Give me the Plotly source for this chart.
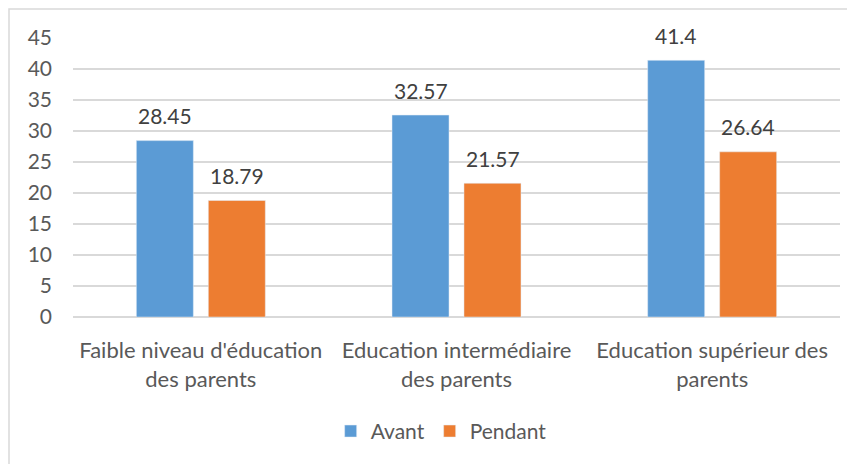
import plotly.graph_objects as go

categories = ["Faible niveau d'éducation<br>des parents",
              "Education intermédiaire<br>des parents",
              "Education supérieur des<br>parents"]
avant = [28.45, 32.57, 41.4]
pendant = [18.79, 21.57, 26.64]
avant_labels = ["28.45", "32.57", "41.4"]
pendant_labels = ["18.79", "21.57", "26.64"]
y_ticks = [0, 5, 10, 15, 20, 25, 30, 35, 40, 45]

FONT = "Lato"
TXT = "#595959"

# page has 8px body margin; figure sized to fit the 855x464 window
W, H = 847, 456
L, R, T, B = 65, 15, 30, 147
PW, PH = W - L - R, H - T - B

fig = go.Figure()
fig.add_trace(go.Bar(x=categories, y=avant, name="Avant", marker_color="#5B9BD5"))
fig.add_trace(go.Bar(x=categories, y=pendant, name="Pendant", marker_color="#ED7D31"))

annotations = []
for cat, v, lab in zip(categories, avant, avant_labels):
    annotations.append(dict(x=cat, y=v, xref="x", yref="y", text=lab, showarrow=False,
                            xshift=-36, yshift=25, yanchor="middle",
                            font=dict(size=21, color="#404040", family=FONT)))
for cat, v, lab in zip(categories, pendant, pendant_labels):
    annotations.append(dict(x=cat, y=v, xref="x", yref="y", text=lab, showarrow=False,
                            xshift=36, yshift=25, yanchor="middle",
                            font=dict(size=21, color="#404040", family=FONT)))

fig.update_layout(
    width=W, height=H,
    margin=dict(l=L, r=R, t=T, b=B),
    paper_bgcolor="white", plot_bgcolor="white",
    barmode="group", bargap=0.437, bargroupgap=0.208,
    font=dict(family=FONT, size=21, color=TXT),
    showlegend=True,
    legend=dict(orientation="h", x=0.48, xanchor="center", y=-0.41, yanchor="middle",
                font=dict(size=21, color=TXT, family=FONT), itemwidth=30),
    xaxis=dict(showgrid=False, showline=False, ticks="", ticklabelstandoff=18,
               tickfont=dict(size=22, color=TXT)),
    yaxis=dict(range=[0, 45], tickvals=y_ticks, showgrid=True, gridcolor="#D9D9D9",
               gridwidth=1.5, zeroline=True, zerolinecolor="#D9D9D9", zerolinewidth=1.5,
               ticks="", ticklabelstandoff=20, tickfont=dict(size=21, color=TXT)),
    annotations=annotations,
    shapes=[dict(type="rect", xref="paper", yref="paper",
                 x0=(1 - L) / PW, x1=(W + 20 - L) / PW,
                 y0=(T + PH - (H + 20)) / PH, y1=(T + PH - 1) / PH,
                 line=dict(color="#D9D9D9", width=1.5), layer="below")],
)

fig.write_html("out.html")
